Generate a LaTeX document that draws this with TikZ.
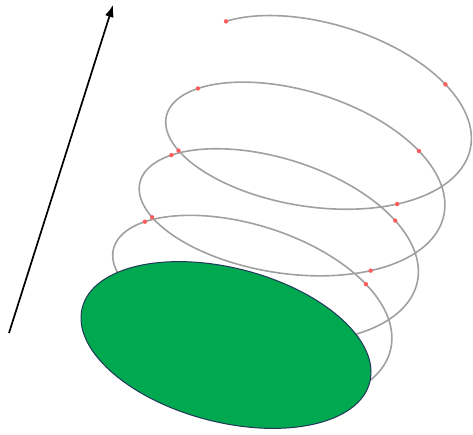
\documentclass[tikz,border=0pt]{standalone}
\usetikzlibrary{arrows.meta}
\usepackage{xcolor}
\definecolor{leafgreen}{HTML}{00A84F}
\definecolor{rimnavy}{HTML}{22385A}
\definecolor{coilgrey}{HTML}{A0A0A0}
\definecolor{spotred}{HTML}{FF5C5C}

\begin{document}
\begin{tikzpicture}[
  x=1pt, y=1pt,
  declare function={hx(\t)=245.2+0.07361*\t+145.2*cos(\t)+16.65*sin(\t);
                    hy(\t)=117.2+0.185*\t-33.5*cos(\t)+72.1*sin(\t);},
  coil/.style={draw=coilgrey, line width=1.6pt},
  spot/.style={fill=spotred},
  disc/.style={draw=rimnavy, fill=leafgreen, line width=1pt},
  vec/.style={-{Latex[length=12pt,width=9pt]}, black, line width=1.7pt}
]
\useasboundingbox (0,0) rectangle (473,434);

% helix
\draw[coil] plot[domain=-40:1225, samples=700, variable=\t, smooth] ({hx(\t)},{hy(\t)});
\foreach \t in {43,146,401,506,569,668,763,866,929,1028,1123,1225}
  \fill[spot] ({hx(\t)},{hy(\t)}) circle (2.2pt);

% disc in front
\draw[disc] (226,89) ellipse [x radius=148.5, y radius=77, rotate=-14.6];

% direction
\coordinate (tail) at (9,101);
\coordinate (tip) at (113,429);
\draw[vec] (tail) -- (tip);
\end{tikzpicture}
\end{document}
